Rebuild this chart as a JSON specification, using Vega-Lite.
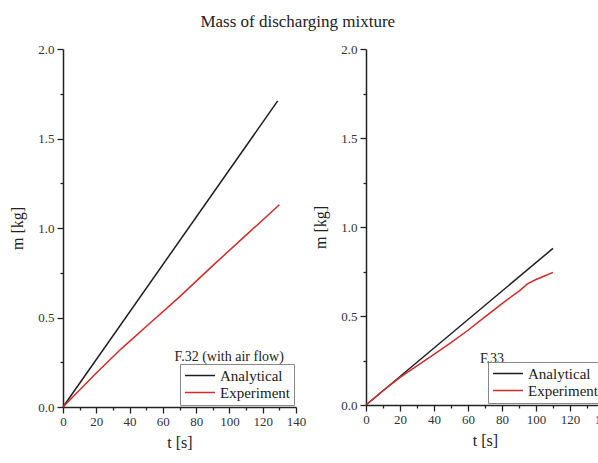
{
  "$schema": "https://vega.github.io/schema/vega-lite/v6.json",
  "padding": {"left": 9, "top": 13, "right": 0, "bottom": 5},
  "background": "white",
  "title": {"text": "Mass of discharging mixture", "font": "Liberation Serif", "fontSize": 17, "fontWeight": "normal", "color": "#222", "anchor": "middle", "offset": 12, "dx": -14},
  "config": {
    "view": {"stroke": null},
    "font": "Liberation Serif",
    "axis": {"labelFont": "Liberation Serif", "labelFontSize": 13, "labelColor": "#333", "titleFont": "Liberation Serif", "titleFontSize": 16, "titleFontWeight": "normal", "titleColor": "#222", "domainColor": "#222", "domainWidth": 1.5, "tickColor": "#222", "tickWidth": 1.3, "grid": false, "labelOverlap": false},
    "legend": {"labelFont": "Liberation Serif", "labelFontSize": 15, "labelColor": "#222"},
    "concat": {"spacing": 6}
  },
  "datasets": {
    "m": [
      {"panel": "F32", "series": "Analytical", "t": 0, "m": 0},
      {"panel": "F32", "series": "Analytical", "t": 129, "m": 1.71},
      {"panel": "F32", "series": "Experiment", "t": 0, "m": 0},
      {"panel": "F32", "series": "Experiment", "t": 10, "m": 0.095},
      {"panel": "F32", "series": "Experiment", "t": 20, "m": 0.19},
      {"panel": "F32", "series": "Experiment", "t": 35, "m": 0.325},
      {"panel": "F32", "series": "Experiment", "t": 50, "m": 0.45},
      {"panel": "F32", "series": "Experiment", "t": 70, "m": 0.615},
      {"panel": "F32", "series": "Experiment", "t": 90, "m": 0.79},
      {"panel": "F32", "series": "Experiment", "t": 110, "m": 0.96},
      {"panel": "F32", "series": "Experiment", "t": 130, "m": 1.13},
      {"panel": "F33", "series": "Analytical", "t": 0, "m": 0},
      {"panel": "F33", "series": "Analytical", "t": 110, "m": 0.88},
      {"panel": "F33", "series": "Experiment", "t": 0, "m": 0},
      {"panel": "F33", "series": "Experiment", "t": 10, "m": 0.08},
      {"panel": "F33", "series": "Experiment", "t": 20, "m": 0.155},
      {"panel": "F33", "series": "Experiment", "t": 30, "m": 0.22},
      {"panel": "F33", "series": "Experiment", "t": 40, "m": 0.285},
      {"panel": "F33", "series": "Experiment", "t": 50, "m": 0.35},
      {"panel": "F33", "series": "Experiment", "t": 60, "m": 0.42},
      {"panel": "F33", "series": "Experiment", "t": 70, "m": 0.495},
      {"panel": "F33", "series": "Experiment", "t": 80, "m": 0.57},
      {"panel": "F33", "series": "Experiment", "t": 90, "m": 0.64},
      {"panel": "F33", "series": "Experiment", "t": 95, "m": 0.68},
      {"panel": "F33", "series": "Experiment", "t": 100, "m": 0.705},
      {"panel": "F33", "series": "Experiment", "t": 105, "m": 0.725},
      {"panel": "F33", "series": "Experiment", "t": 110, "m": 0.745}
    ]
  },
  "resolve": {"scale": {"color": "independent"}, "legend": {"color": "independent"}},
  "hconcat": [
    {
      "width": 233,
      "height": 358,
      "resolve": {"axis": {"x": "independent", "y": "independent"}},
      "layer": [
        {
          "data": {"name": "m"},
          "transform": [{"filter": "datum.panel === 'F32'"}],
          "mark": {"type": "line", "strokeWidth": 1.5},
          "encoding": {
            "x": {"field": "t", "type": "quantitative", "title": "t [s]", "scale": {"domain": [0, 140], "nice": false},
              "axis": {"orient": "bottom", "values": [0,20,40,60,80,100,120,140], "tickSize": 6, "labelPadding": 2, "titlePadding": 6, "labelOverlap": false, "labelFlush": false, "labelFont": "Liberation Serif", "titleFont": "Liberation Serif"}},
            "y": {"field": "m", "type": "quantitative", "title": "m [kg]", "scale": {"domain": [0, 2], "nice": false},
              "axis": {"orient": "left", "values": [0,0.5,1,1.5,2], "format": ".1f", "tickSize": 6, "labelPadding": 3, "titlePadding": 12, "labelOverlap": false, "labelFlush": false, "labelFont": "Liberation Serif", "titleFont": "Liberation Serif"}},
            "color": {"field": "series", "type": "nominal", "scale": {"domain": ["Analytical", "Experiment"], "range": ["#1e1e1e", "#d22b2b"]},
              "legend": {"title": null, "orient": "bottom-right", "offset": 2, "strokeColor": "#888", "padding": 4, "symbolType": "stroke", "symbolSize": 900, "symbolStrokeWidth": 1.5, "rowPadding": 1, "labelOffset": 4, "clipHeight": 15, "labelFont": "Liberation Serif", "labelFontSize": 15}}
          }
        },
        {
          "data": {"values": [{}]},
          "mark": {"type": "text", "align": "left", "baseline": "middle", "font": "Liberation Serif", "fontSize": 14, "color": "#222"},
          "encoding": {
            "x": {"datum": 67, "axis": {"orient": "bottom", "values": [10,30,50,70,90,110,130], "labels": false, "domain": false, "tickSize": 3, "title": null}},
            "y": {"datum": 0.28, "axis": {"orient": "left", "values": [0.25,0.75,1.25,1.75], "labels": false, "domain": false, "tickSize": 3, "title": null}},
            "text": {"value": "F.32 (with air flow)"}}
        }
      ]
    },
    {
      "width": 238,
      "height": 356,
      "resolve": {"axis": {"x": "independent", "y": "independent"}},
      "layer": [
        {
          "data": {"name": "m"},
          "transform": [{"filter": "datum.panel === 'F33'"}],
          "mark": {"type": "line", "strokeWidth": 1.5},
          "encoding": {
            "x": {"field": "t", "type": "quantitative", "title": "t [s]", "scale": {"domain": [0, 140], "nice": false},
              "axis": {"orient": "bottom", "values": [0,20,40,60,80,100,120,140], "tickSize": 6, "labelPadding": 2, "titlePadding": 6, "labelOverlap": false, "labelFlush": false, "labelFont": "Liberation Serif", "titleFont": "Liberation Serif"}},
            "y": {"field": "m", "type": "quantitative", "title": "m [kg]", "scale": {"domain": [0, 2], "nice": false},
              "axis": {"orient": "left", "values": [0,0.5,1,1.5,2], "format": ".1f", "tickSize": 6, "labelPadding": 3, "titlePadding": 12, "labelOverlap": false, "labelFlush": false, "labelFont": "Liberation Serif", "titleFont": "Liberation Serif"}},
            "color": {"field": "series", "type": "nominal", "scale": {"domain": ["Analytical", "Experiment"], "range": ["#1e1e1e", "#d22b2b"]},
              "legend": {"title": null, "orient": "bottom-right", "offset": 2, "strokeColor": "#888", "padding": 4, "symbolType": "stroke", "symbolSize": 900, "symbolStrokeWidth": 1.5, "rowPadding": 1, "labelOffset": 4, "clipHeight": 15, "labelFont": "Liberation Serif", "labelFontSize": 15}}
          }
        },
        {
          "data": {"values": [{}]},
          "mark": {"type": "text", "align": "left", "baseline": "middle", "font": "Liberation Serif", "fontSize": 14, "color": "#222"},
          "encoding": {
            "x": {"datum": 67, "axis": {"orient": "bottom", "values": [10,30,50,70,90,110,130], "labels": false, "domain": false, "tickSize": 3, "title": null}},
            "y": {"datum": 0.26, "axis": {"orient": "left", "values": [0.25,0.75,1.25,1.75], "labels": false, "domain": false, "tickSize": 3, "title": null}},
            "text": {"value": "F.33"}}
        }
      ]
    }
  ]
}
